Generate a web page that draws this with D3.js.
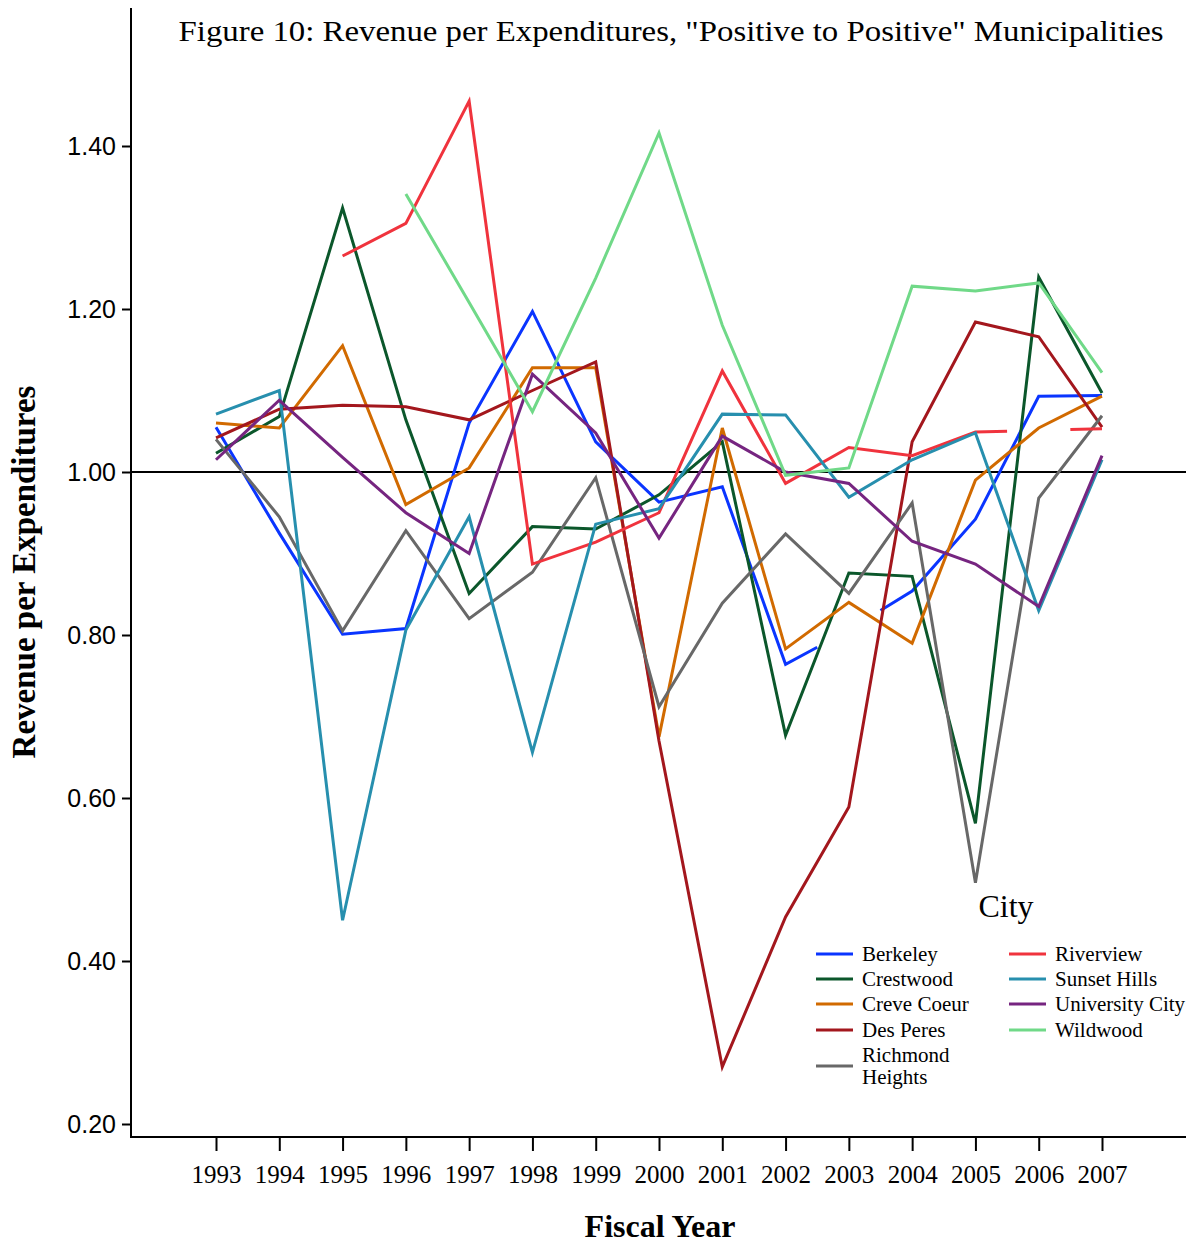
<!DOCTYPE html>
<html>
<head>
<meta charset="utf-8">
<script src="https://cdn.jsdelivr.net/npm/d3@7"></script>
<style>
body { margin: 0; background: #fff; }
svg { display: block; }
</style>
</head>
<body>
<script>
var w = 1197;
var h = 1245;

// fiscal years on the x axis
var years = [1993, 1994, 1995, 1996, 1997, 1998, 1999, 2000, 2001, 2002, 2003, 2004, 2005, 2006, 2007];
var yTicks = [0.20, 0.40, 0.60, 0.80, 1.00, 1.20, 1.40];

// revenue per expenditures, one array per city (null = no value)
var berkeley    = [1.055, 0.925, 0.801, 0.808, 1.060, 1.197, 1.037, 0.963, 0.982, 0.764, 0.806, 0.854, 0.942, 1.093, 1.094];
var crestwood   = [1.023, 1.068, 1.324, 1.064, 0.851, 0.933, 0.930, 0.972, 1.037, 0.677, 0.876, 0.872, 0.569, 1.239, 1.097];
var creveCoeur  = [1.060, 1.054, 1.155, 0.960, 1.005, 1.128, 1.128, 0.675, 1.054, 0.783, 0.840, 0.790, 0.990, 1.054, 1.093];
var desPeres    = [1.042, 1.077, 1.082, 1.080, 1.064, 1.100, 1.135, 0.670, 0.270, 0.454, 0.589, 1.037, 1.184, 1.166, 1.055];
var richmondHts = [1.040, 0.945, 0.805, 0.928, 0.820, 0.877, 0.993, 0.712, 0.839, 0.924, 0.851, 0.962, 0.496, 0.968, 1.069];
var riverview   = [null, null, 1.265, 1.305, 1.455, 0.887, 0.914, 0.950, 1.124, 0.986, 1.030, 1.020, 1.049, 1.051, 1.053];
var sunsetHills = [1.071, 1.100, 0.450, 0.806, 0.945, 0.656, 0.936, 0.955, 1.071, 1.070, 0.969, 1.015, 1.048, 0.830, 1.015];
var univCity    = [1.015, 1.088, 1.018, 0.950, 0.900, 1.120, 1.048, 0.919, 1.044, 1.000, 0.986, 0.915, 0.887, 0.835, 1.020];
var wildwood    = [null, null, null, 1.341, 1.208, 1.074, 1.238, 1.416, 1.180, 0.996, 1.005, 1.228, 1.222, 1.232, 1.122];

// years whose point is not drawn (lines stop half way to them)
var hiddenYears = { "Berkeley": [2003], "Riverview": [2006] };

var cities = [
  {name: "Berkeley", values: berkeley, color: "#0a35ff"},
  {name: "Crestwood", values: crestwood, color: "#0b572b"},
  {name: "Creve Coeur", values: creveCoeur, color: "#d16a00"},
  {name: "Des Peres", values: desPeres, color: "#a3171d"},
  {name: "Richmond Heights", values: richmondHts, color: "#686868"},
  {name: "Riverview", values: riverview, color: "#f0333d"},
  {name: "Sunset Hills", values: sunsetHills, color: "#278fae"},
  {name: "University City", values: univCity, color: "#762580"},
  {name: "Wildwood", values: wildwood, color: "#70d988"}
];

var serif = "'Liberation Serif', 'DejaVu Serif', serif";
var sans = "'Liberation Sans', Arial, sans-serif";

var svg = d3.select("body")
            .append("svg")
            .attr("width", w)
            .attr("height", h);

var x = d3.scalePoint()
          .domain(years)
          .range([216, 1102]);

var y = d3.scaleLinear()
          .domain([0.2, 1.4])
          .range([1124, 146]);

//axes
var yAxis = d3.axisLeft(y)
              .tickValues(yTicks)
              .tickSize(9)
              .tickPadding(6)
              .tickFormat(d3.format(".2f"));

var gy = svg.append("g")
            .attr("transform", "translate(131,0)")
            .call(yAxis);
gy.select(".domain").remove();
gy.selectAll("line").attr("stroke", "#000").attr("stroke-width", 2);
gy.selectAll("text")
  .style("font-family", sans)
  .style("font-size", "25px")
  .attr("fill", "#000");

var xAxis = d3.axisBottom(x)
              .tickSize(14)
              .tickPadding(14);

var gx = svg.append("g")
            .attr("transform", "translate(0,1137)")
            .call(xAxis);
gx.select(".domain").remove();
gx.selectAll("line").attr("stroke", "#000").attr("stroke-width", 2);
gx.selectAll("text")
  .style("font-family", serif)
  .style("font-size", "25px")
  .attr("fill", "#000");

//frame lines
svg.append("line")
   .attr("x1", 131).attr("x2", 131)
   .attr("y1", 8).attr("y2", 1138)
   .attr("stroke", "#000").attr("stroke-width", 2);
svg.append("line")
   .attr("x1", 130).attr("x2", 1186)
   .attr("y1", 1137).attr("y2", 1137)
   .attr("stroke", "#000").attr("stroke-width", 2);

//reference line at 1.00
svg.append("line")
   .attr("x1", 131).attr("x2", 1186)
   .attr("y1", y(1)).attr("y2", y(1))
   .attr("stroke", "#000").attr("stroke-width", 2.2);

//build drawable runs for a city
function buildRuns(c) {
  var hid = hiddenYears[c.name] || [];
  var v = c.values;
  var runs = [];
  var cur = null;
  function pt(i) { return [x(years[i]), y(v[i])]; }
  for (var i = 0; i < years.length - 1; i++) {
    var a = v[i], b = v[i + 1];
    if (a === null || b === null) { cur = null; continue; }
    var ha = hid.indexOf(years[i]) >= 0;
    var hb = hid.indexOf(years[i + 1]) >= 0;
    if (ha && hb) { cur = null; continue; }
    var mid = [(x(years[i]) + x(years[i + 1])) / 2, y((a + b) / 2)];
    if (!ha && !hb) {
      if (!cur) { cur = [pt(i)]; runs.push(cur); }
      cur.push(pt(i + 1));
    } else if (!ha && hb) {
      if (!cur) { cur = [pt(i)]; runs.push(cur); }
      cur.push(mid);
      cur = null;
    } else {
      cur = [mid, pt(i + 1)];
      runs.push(cur);
    }
  }
  return runs;
}

var line = d3.line();

cities.forEach(function(c) {
  svg.append("g")
     .selectAll("path")
     .data(buildRuns(c))
     .enter()
     .append("path")
     .attr("d", line)
     .attr("fill", "none")
     .attr("stroke", c.color)
     .attr("stroke-width", 3)
     .attr("stroke-linejoin", "miter");
});

//title
svg.append("text")
   .attr("x", 671)
   .attr("y", 41)
   .attr("text-anchor", "middle")
   .attr("textLength", 985)
   .attr("lengthAdjust", "spacingAndGlyphs")
   .style("font-family", serif)
   .style("font-size", "30px")
   .text("Figure 10: Revenue per Expenditures, \"Positive to Positive\" Municipalities");

//axis titles
svg.append("text")
   .attr("transform", "translate(35,572) rotate(-90)")
   .attr("text-anchor", "middle")
   .style("font-family", serif)
   .style("font-size", "33px")
   .style("font-weight", "bold")
   .text("Revenue per Expenditures");

svg.append("text")
   .attr("x", 660)
   .attr("y", 1237)
   .attr("text-anchor", "middle")
   .style("font-family", serif)
   .style("font-size", "32px")
   .style("font-weight", "bold")
   .text("Fiscal Year");

//legend
svg.append("text")
   .attr("x", 1006)
   .attr("y", 917)
   .attr("text-anchor", "middle")
   .style("font-family", serif)
   .style("font-size", "32px")
   .text("City");

var rowY = [954, 979, 1004, 1030, 1066];
var legend = svg.append("g");
cities.forEach(function(c, i) {
  var col = i < 5 ? 0 : 1;
  var row = i < 5 ? i : i - 5;
  var lx = col === 0 ? 816 : 1009;
  var ly = rowY[row];
  legend.append("line")
        .attr("x1", lx).attr("x2", lx + 37)
        .attr("y1", ly).attr("y2", ly)
        .attr("stroke", c.color)
        .attr("stroke-width", 3);
  var t = legend.append("text")
        .attr("x", lx + 46)
        .attr("y", ly + 7)
        .style("font-family", serif)
        .style("font-size", "21px");
  if (c.name === "Richmond Heights") {
    t.attr("y", ly - 4);
    t.append("tspan").attr("x", lx + 46).text("Richmond");
    t.append("tspan").attr("x", lx + 46).attr("dy", 22).text("Heights");
  } else {
    t.text(c.name);
  }
});
</script>
</body>
</html>
